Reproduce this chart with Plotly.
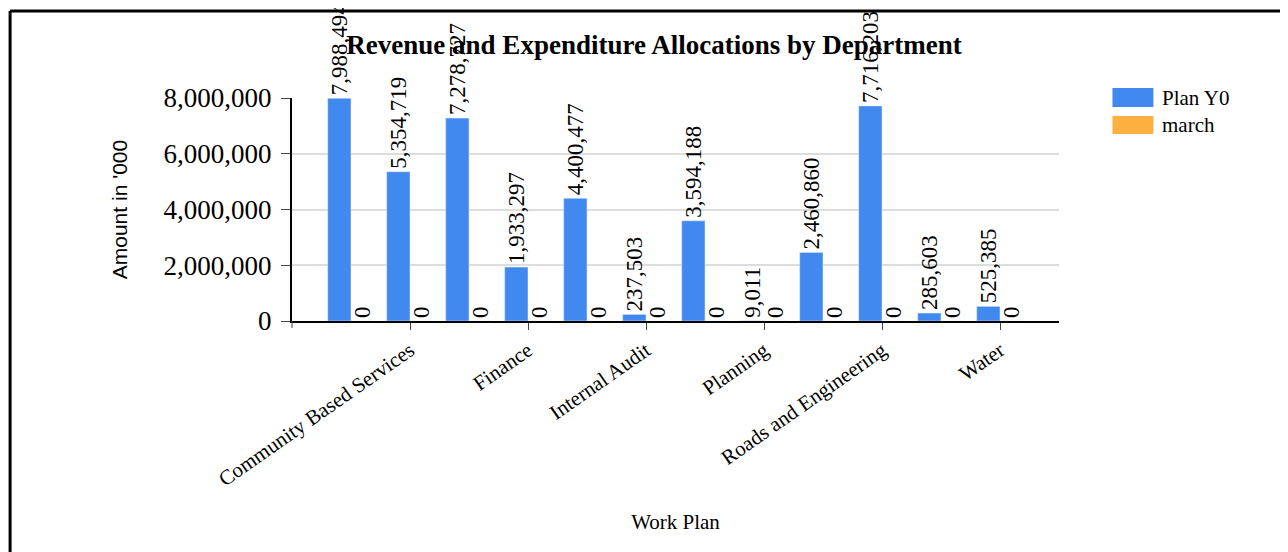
import plotly.graph_objects as go

departments = [
    "Administration", "Community Based Services", "Education", "Finance",
    "Health", "Internal Audit", "Natural Resources", "Planning",
    "Production and Marketing", "Roads and Engineering", "Statutory Bodies", "Water",
]
plan_y0 = [7988494, 5354719, 7278727, 1933297, 4400477, 237503,
           3594188, 9011, 2460860, 7716203, 285603, 525385]
march = [0, 0, 0, 0, 0, 0, 0, 0, 0, 0, 0, 0]
shown_labels = departments[1::2]
y_ticks = [0, 2000000, 4000000, 6000000, 8000000]

OFF = 8  # page body margin
W, H = 1280, 544
L = 291.7 - OFF
T = 98 - OFF
R = W - (1059.5 - OFF)
B = H - (321 - OFF)
PW, PH = W - L - R, H - T - B


def px(x):
    """page x pixel -> paper coordinate"""
    return (x - OFF - L) / PW


def py(y):
    """page y pixel -> paper coordinate"""
    return 1 - (y - OFF - T) / PH


BLUE = "#4189ef"
ORANGE = "#fbb040"
SERIF = "Liberation Serif"

fig = go.Figure()
fig.add_bar(x=departments, y=plan_y0, name="Plan Y0", marker_color=BLUE,
            texttemplate="%{y:,.0f}", textposition="outside", textangle=-90,
            outsidetextfont=dict(family=SERIF, size=23, color="black"),
            cliponaxis=False, constraintext="none", showlegend=False)
fig.add_bar(x=departments, y=march, name="march", marker_color=ORANGE,
            texttemplate="%{y:,.0f}", textposition="outside", textangle=-90,
            outsidetextfont=dict(family=SERIF, size=23, color="black"),
            cliponaxis=False, constraintext="none", showlegend=False)

shapes = [
    # outer frame (top and left edges visible)
    dict(type="line", xref="paper", yref="paper", x0=px(9.5), x1=px(1300),
         y0=py(11), y1=py(11), line=dict(color="black", width=3)),
    dict(type="line", xref="paper", yref="paper", x0=px(9.5), x1=px(9.5),
         y0=py(11), y1=py(560), line=dict(color="black", width=3)),
    # leftmost x tick
    dict(type="line", xref="paper", yref="paper", x0=0, x1=0,
         y0=0, y1=py(328), line=dict(color="#444", width=1)),
    # legend swatches
    dict(type="rect", xref="paper", yref="paper", x0=px(1113), x1=px(1154),
         y0=py(107), y1=py(88), fillcolor=BLUE, line=dict(width=0)),
    dict(type="rect", xref="paper", yref="paper", x0=px(1113), x1=px(1154),
         y0=py(134), y1=py(116), fillcolor=ORANGE, line=dict(width=0)),
]
annotations = [
    dict(text="Plan Y0", xref="paper", yref="paper", x=px(1161), y=py(97.5),
         xanchor="left", yanchor="middle", showarrow=False,
         font=dict(family=SERIF, size=21, color="black")),
    dict(text="march", xref="paper", yref="paper", x=px(1161), y=py(125),
         xanchor="left", yanchor="middle", showarrow=False,
         font=dict(family=SERIF, size=21, color="black")),
]

fig.update_layout(
    width=W, height=H,
    margin=dict(l=L, r=R, t=T, b=B),
    paper_bgcolor="white", plot_bgcolor="white",
    barmode="group", bargap=0.21, bargroupgap=0,
    title=dict(text="<b>Revenue and Expenditure Allocations by Department</b>",
               x=(654 - OFF) / W, xref="container", xanchor="center",
               y=1 - (45 - OFF) / H, yref="container", yanchor="middle",
               font=dict(family=SERIF, size=27, color="black")),
    showlegend=False,
    shapes=shapes, annotations=annotations,
    font=dict(family=SERIF, color="black"),
)
fig.update_xaxes(
    type="category", range=[-1, 12],
    tickmode="array", tickvals=shown_labels, ticktext=shown_labels,
    tickangle=-35, tickfont=dict(family=SERIF, size=21, color="black"),
    ticks="outside", ticklen=7, tickcolor="#444",
    showline=True, linecolor="black", linewidth=2, showgrid=False,
    title=dict(text="Work Plan", font=dict(family=SERIF, size=21, color="black"),
               standoff=24),
    automargin=False,
)
fig.update_yaxes(
    range=[0, 8000000], tickmode="array", tickvals=y_ticks,
    tickformat=",.0f", tickfont=dict(family=SERIF, size=27, color="black"),
    ticks="outside", ticklen=9, tickcolor="#444", ticklabelstandoff=4,
    showline=True, linecolor="black", linewidth=2,
    showgrid=True, gridcolor="#dddddd", gridwidth=2, zeroline=False,
    title=dict(text="Amount in '000", font=dict(family="Liberation Sans", size=21, color="black"),
               standoff=30),
    automargin=False,
)

fig.write_html("out.html")
